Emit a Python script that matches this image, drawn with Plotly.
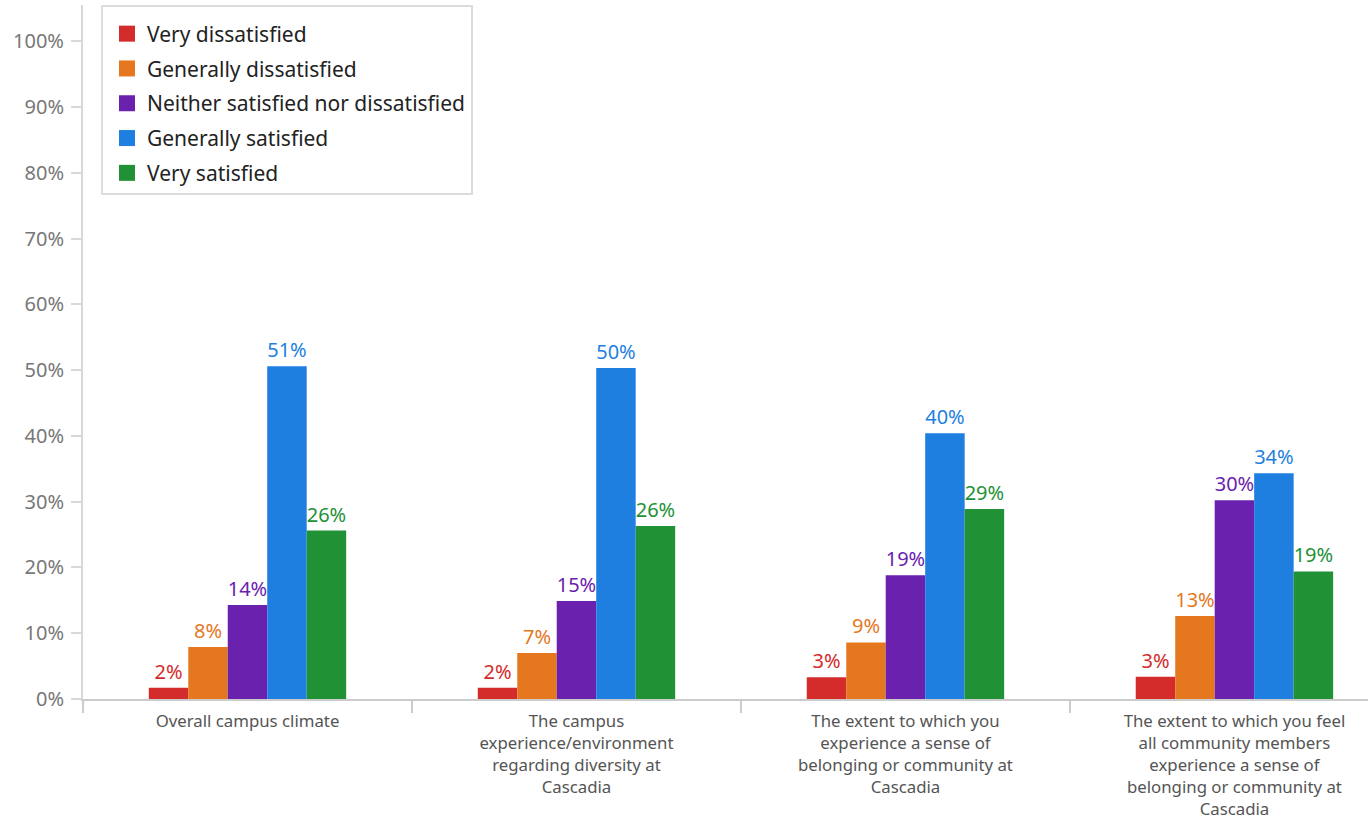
import plotly.graph_objects as go

categories = [
    "Overall campus climate",
    "The campus<br>experience/environment<br>regarding diversity at<br>Cascadia",
    "The extent to which you<br>experience a sense of<br>belonging or community at<br>Cascadia",
    "The extent to which you feel<br>all community members<br>experience a sense of<br>belonging or community at<br>Cascadia",
]
series_names = [
    "Very dissatisfied",
    "Generally dissatisfied",
    "Neither satisfied nor dissatisfied",
    "Generally satisfied",
    "Very satisfied",
]
very_dissatisfied = [1.7, 1.7, 3.3, 3.4]
generally_dissatisfied = [7.9, 7.0, 8.6, 12.6]
neither = [14.3, 14.9, 18.8, 30.2]
generally_satisfied = [50.6, 50.3, 40.4, 34.3]
very_satisfied = [25.6, 26.3, 28.9, 19.4]
series_values = [very_dissatisfied, generally_dissatisfied, neither, generally_satisfied, very_satisfied]
colors = ["#d42b2b", "#e5781f", "#6a22ae", "#1f7fe0", "#219136"]
y_ticks = list(range(0, 101, 10))
y_tick_labels = [f"{t}%" for t in y_ticks]

fig = go.Figure()
for i, (name, vals, col) in enumerate(zip(series_names, series_values, colors)):
    fig.add_trace(go.Bar(
        x=categories, y=vals, name=name,
        marker=dict(color=col, line=dict(width=0)),
        text=[f"{round(v)}%" for v in vals],
        textposition="outside",
        textfont=dict(color=col, size=20, family="Noto Sans"),
        cliponaxis=False,
        showlegend=False,
        hoverinfo="skip",
    ))
# legend entries with larger square swatches
for i, (name, col) in enumerate(zip(series_names, colors)):
    fig.add_trace(go.Scatter(
        x=[None], y=[None], mode="markers", name=name,
        marker=dict(symbol="square", size=17, color=col),
        legendgroup=f"g{i}", hoverinfo="skip",
    ))

fig.update_layout(
    width=1368, height=822,
    margin=dict(l=83, r=0, t=5, b=123, autoexpand=False),
    paper_bgcolor="white", plot_bgcolor="white",
    barmode="group", bargap=0.4, bargroupgap=0,
    font=dict(family="Noto Sans", color="#555"),
    showlegend=True,
    legend=dict(
        x=0.014, y=1, xanchor="left", yanchor="top",
        bgcolor="white", bordercolor="#dcdcdc", borderwidth=2,
        font=dict(size=21, color="#222", family="Noto Sans"),
        tracegroupgap=4.5, itemsizing="trace", indentation=4,
        title=dict(text=" ", font=dict(size=5)),
        itemclick=False, itemdoubleclick=False,
    ),
    xaxis=dict(
        range=[-0.5, 3.406],
        showline=True, linecolor="#cccccc", linewidth=2,
        tickson="boundaries", ticks="outside", ticklen=12, tickcolor="#cccccc", tickwidth=2,
        tickfont=dict(size=16.8, color="#555"),
        ticklabelstandoff=6, automargin=False,
        showgrid=False, fixedrange=True,
    ),
    yaxis=dict(
        range=[0, 105.5],
        tickvals=y_ticks, ticktext=y_tick_labels,
        showline=True, linecolor="#d8d8d8", linewidth=2,
        ticks="outside", ticklen=10, tickcolor="#d8d8d8", tickwidth=2,
        tickfont=dict(size=20, color="#777"),
        ticklabelstandoff=3, automargin=False,
        showgrid=False, zeroline=False, fixedrange=True,
    ),
)

fig.write_html("out.html")
